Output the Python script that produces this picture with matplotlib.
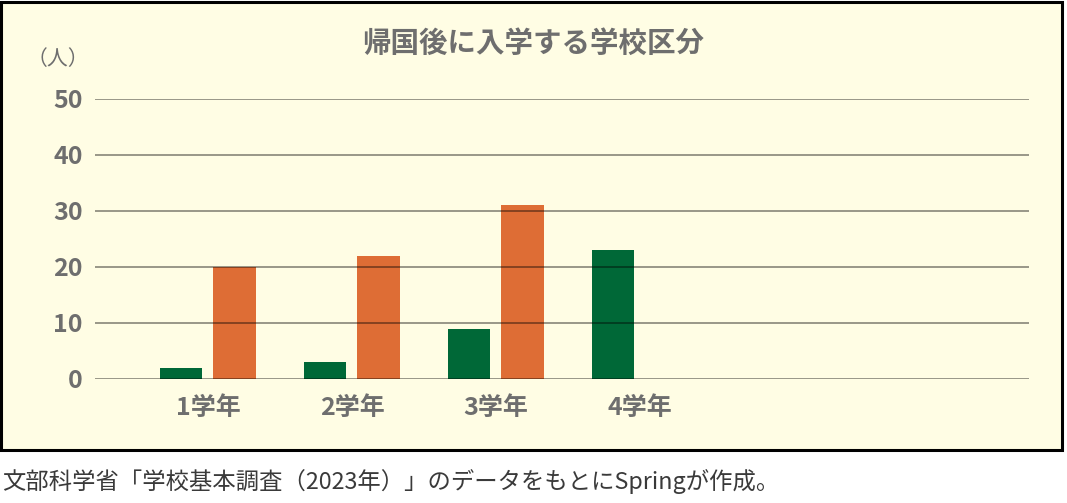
import matplotlib.pyplot as plt
from matplotlib.patches import Rectangle
import numpy as np

plt.rcParams['font.family'] = ['Noto Sans CJK JP', 'DejaVu Sans']

categories = ["1学年", "2学年", "3学年", "4学年"]
green_vals = [2, 3, 9, 23]
orange_vals = [20, 22, 31, 0]
yticks = [0, 10, 20, 30, 40, 50]

bg = "#FFFDE4"
green = "#006837"
orange = "#DE6D35"
txt_gray = "#6E6E6E"

fig = plt.figure(figsize=(10.67, 5.03), dpi=100)
W, H = 1067, 503

# framed panel
fig.patches.append(Rectangle((1 / W, 1 - 450 / H), 1061 / W, 448 / H,
                             transform=fig.transFigure, facecolor=bg,
                             edgecolor="black", linewidth=2.2, zorder=0))

ax = fig.add_axes([95 / W, (H - 379) / H, 934 / W, 280 / H])
ax.set_facecolor("none")
ax.set_zorder(2)

x = np.arange(len(categories))
bw = 0.295
ax.bar(x - 0.1875, green_vals, width=bw, color=green, zorder=2)
ax.bar(x + 0.184, orange_vals, width=bw, color=orange, zorder=2)

for t in yticks:
    ax.axhline(t, color="black", alpha=0.4, linewidth=1.4, zorder=3)

ax.set_xlim(-0.785, 5.70)
ax.set_ylim(0, 50)
ax.set_yticks(yticks)
ax.set_yticklabels([str(t) for t in yticks], fontsize=18, fontweight="bold", color=txt_gray)
ax.set_xticks(x)
ax.set_xticklabels(categories, fontsize=18, fontweight="bold", color=txt_gray)
ax.tick_params(length=0, pad=9)
ax.tick_params(axis="x", pad=12)
for s in ax.spines.values():
    s.set_visible(False)

fig.text(533 / W, 1 - 44 / H, "帰国後に入学する学校区分", ha="center", va="center",
         fontsize=20.5, fontweight="bold", color=txt_gray, zorder=3)
fig.text(58 / W, 1 - 59 / H, "（人）", ha="center", va="center",
         fontsize=15, color=txt_gray, zorder=3)
fig.text(2 / W, 1 - 481 / H, "文部科学省「学校基本調査（2023年）」のデータをもとにSpringが作成。",
         ha="left", va="center", fontsize=16.8, color="#3a3a3a")

fig.savefig("out.png", dpi=100, facecolor="white")
